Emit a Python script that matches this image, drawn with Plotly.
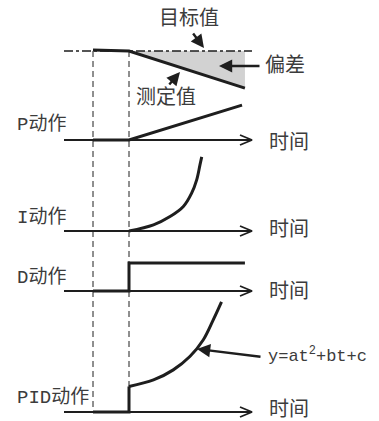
import plotly.graph_objects as go

# time runs in units where the step happens at t=0, values are per-panel responses
pre_t = [-1, 0]

meas_t = [-1, 0, 3.22]
meas_v = [0.03, 0, -1.03]

p_t = [-1, 0, 3.14]
p_v = [0, 0, 0.97]

i_t = [0, 0.68, 1.14, 1.51, 1.74, 1.88, 1.97, 2.02]
i_v = [0, 0.17, 0.40, 0.68, 1.05, 1.42, 1.83, 2.06]

d_t = [-1, 0, 0, 3.22]
d_v = [0, 0, 0.78, 0.78]

pid_step_t = [-1, 0, 0]
pid_step_v = [0, 0, 0.71]
pid_t = [0, 0.68, 1.23, 1.69, 2.06, 2.34, 2.57]
pid_v = [0.71, 0.89, 1.17, 1.54, 2.0, 2.56, 3.06]

panel_names = ["P动作", "I动作", "D动作", "PID动作"]
time_label = "时间"

# layout: 36 px per unit, step at x=129px, PID baseline at y=412px
W, H = 379, 421
S = 36.0
X0, Y0 = 129, 412


def at(xp, yp):
    return (xp - X0) / S, (Y0 - yp) / S


base = {"target": at(0, 51)[1], "P": at(0, 140)[1], "I": at(0, 231)[1],
        "D": at(0, 291)[1], "PID": at(0, 412)[1]}

INK = "#1e1e1e"
TXT = "#3c3c3c"
FONT = "Liberation Mono, Noto Sans CJK SC, sans-serif"

fig = go.Figure()


def line(xs, ys, width=3, dash=None, color=INK, shape="linear", fill=None, fillcolor=None):
    fig.add_trace(go.Scatter(x=xs, y=ys, mode="lines", fill=fill, fillcolor=fillcolor,
                             line=dict(color=color, width=width, dash=dash, shape=shape),
                             hoverinfo="skip", showlegend=False))


# deviation area
yb = base["target"]
line([0, meas_t[-1], meas_t[-1], 0], [yb, yb, yb + meas_v[-1], yb],
     width=0, fill="toself", fillcolor="#d2d2d2")

# axes with open arrow heads
ax_start, ax_end = at(64, 0)[0], at(252, 0)[0]
for k in ["P", "I", "D", "PID"]:
    y = base[k]
    line([ax_start, ax_end], [y, y], width=1.8)
    line([ax_end - 12 / S, ax_end, ax_end - 12 / S], [y + 5 / S, y, y - 5 / S], width=1.8)

# target value line
line([ax_start, ax_end], [yb, yb], width=1.5, dash="dashdot")

# dashed time markers
for t in pre_t:
    line([t, t], [base["target"], base["PID"]], width=1, dash="6px,4px")

# signals
line(meas_t, [yb + v for v in meas_v])
line(p_t, [base["P"] + v for v in p_v])
line(i_t, [base["I"] + v for v in i_v], shape="spline")
line(d_t, [base["D"] + v for v in d_v])
line(pid_step_t, [base["PID"] + v for v in pid_step_v])
line(pid_t, [base["PID"] + v for v in pid_v], shape="spline")

ann = []


def text(s, xp, yp, size=19, anchor="center"):
    x, y = at(xp, yp)
    ann.append(dict(x=x, y=y, text=s, showarrow=False, xanchor=anchor, yanchor="middle",
                    font=dict(family=FONT, size=size, color=TXT)))


def arrow(tail, tip):
    x, y = at(*tip)
    ax, ay = at(*tail)
    ann.append(dict(x=x, y=y, ax=ax, ay=ay, xref="x", yref="y", axref="x", ayref="y",
                    text="", showarrow=True, arrowhead=2, arrowsize=1.1,
                    arrowwidth=2.4, arrowcolor=INK))


text("目标值", 189, 19, size=20)
text("偏差", 285, 66, size=20)
text("测定值", 166, 98, size=20)
for name, yp in zip(panel_names, [124, 217, 277, 397]):
    text(name, 15, yp, anchor="left")
for yp in [143, 230, 292, 410]:
    text(time_label, 267, yp, size=20, anchor="left")
text("y=at<sup>2</sup>+bt+c", 266, 355, size=17, anchor="left")

arrow((192, 32), (204, 48))
arrow((261, 66), (219, 66))
arrow((168, 86), (180, 72))
arrow((262, 357), (197, 349))

fig.update_layout(
    width=W, height=H,
    margin=dict(l=0, r=0, t=0, b=0),
    paper_bgcolor="white", plot_bgcolor="white",
    xaxis=dict(range=[at(0, 0)[0], at(W, 0)[0]], visible=False, fixedrange=True),
    yaxis=dict(range=[at(0, H)[1], at(0, 0)[1]], visible=False, fixedrange=True),
    annotations=ann,
    showlegend=False,
)

fig.write_html("out.html", config={"displayModeBar": False},
               post_script="document.body.style.margin='0';")
